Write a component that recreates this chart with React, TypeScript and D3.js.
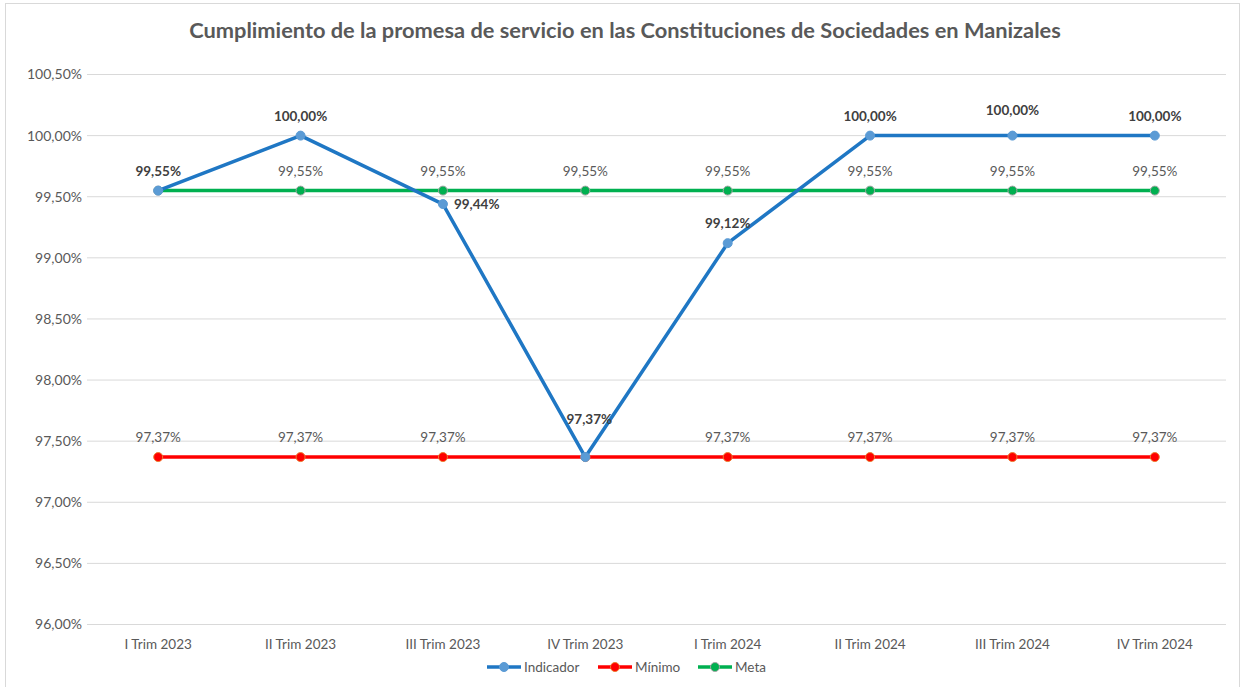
import { useEffect, useRef } from 'react';
import * as d3 from 'd3';

const categories = ['I Trim 2023', 'II Trim 2023', 'III Trim 2023', 'IV Trim 2023', 'I Trim 2024', 'II Trim 2024', 'III Trim 2024', 'IV Trim 2024'];
const indicador = [99.55, 100.0, 99.44, 97.37, 99.12, 100.0, 100.0, 100.0];
const minimo = [97.37, 97.37, 97.37, 97.37, 97.37, 97.37, 97.37, 97.37];
const meta = [99.55, 99.55, 99.55, 99.55, 99.55, 99.55, 99.55, 99.55];
const yTicks = [96.0, 96.5, 97.0, 97.5, 98.0, 98.5, 99.0, 99.5, 100.0, 100.5];

const FONT = 'Lato, "Open Sans", sans-serif';
const fmt = (v: number) => v.toFixed(2).replace('.', ',') + '%';

export default function App() {
  const ref = useRef<SVGSVGElement>(null);

  useEffect(() => {
    if (!ref.current) return;
    const W = 1241, H = 687;
    const svg = d3.select(ref.current);
    svg.selectAll('*').remove();

    svg.append('rect').attr('x', 5.5).attr('y', 3.5).attr('width', W - 7).attr('height', H - 2)
      .attr('fill', '#fff').attr('stroke', '#d9d9d9');

    const x = d3.scaleBand<string>().domain(categories).range([87, 1226]);
    const cx = (i: number) => (x(categories[i]) as number) + x.bandwidth() / 2;
    const y = d3.scaleLinear().domain([96, 100.5]).range([624.5, 74.5]);

    svg.append('text').attr('x', 625).attr('y', 38).attr('text-anchor', 'middle')
      .attr('font-family', FONT).attr('font-weight', 'bold').attr('font-size', 21.8)
      .attr('fill', '#595959')
      .text('Cumplimiento de la promesa de servicio en las Constituciones de Sociedades en Manizales');

    // grid + y labels
    yTicks.forEach(t => {
      svg.append('line').attr('x1', 87).attr('x2', 1226).attr('y1', y(t)).attr('y2', y(t))
        .attr('stroke', '#d9d9d9').attr('stroke-width', 1);
      svg.append('text').attr('x', 82).attr('y', y(t)).attr('dy', '0.35em').attr('text-anchor', 'end')
        .attr('font-family', FONT).attr('font-size', 14).attr('fill', '#595959').text(fmt(t));
    });

    categories.forEach((c, i) => {
      svg.append('text').attr('x', cx(i)).attr('y', 649).attr('text-anchor', 'middle')
        .attr('font-family', FONT).attr('font-size', 13.5).attr('fill', '#595959').text(c);
    });

    const line = d3.line<number>().x((_, i) => cx(i)).y(d => y(d));

    const series = [
      { name: 'Indicador', data: indicador, color: '#1f77c4', marker: '#5b9bd5', edge: '#5b9bd5' },
      { name: 'Mínimo', data: minimo, color: '#ff0000', marker: '#ff0000', edge: '#ed7d31' },
      { name: 'Meta', data: meta, color: '#00b050', marker: '#00b050', edge: '#a5a5a5' },
    ];

    // draw order: minimo, meta, indicador on top
    [series[1], series[2], series[0]].forEach(s => {
      svg.append('path').attr('d', line(s.data) as string).attr('fill', 'none')
        .attr('stroke', s.color).attr('stroke-width', 3.5).attr('stroke-linejoin', 'round');
      s.data.forEach((d, i) => {
        svg.append('circle').attr('cx', cx(i)).attr('cy', y(d)).attr('r', 4.5)
          .attr('fill', s.marker).attr('stroke', s.edge).attr('stroke-width', 1);
      });
    });

    const label = (px: number, py: number, txt: string, bold: boolean, anchor = 'middle') =>
      svg.append('text').attr('x', px).attr('y', py).attr('text-anchor', anchor)
        .attr('font-family', FONT).attr('font-size', 13.5).attr('font-weight', bold ? 'bold' : 'normal')
        .attr('fill', bold ? '#404040' : '#595959').text(txt);

    meta.forEach((d, i) => { if (i !== 0) label(cx(i), y(d) - 15, fmt(d), false); });
    minimo.forEach((d, i) => { if (i !== 3) label(cx(i), y(d) - 15, fmt(d), false); });

    indicador.forEach((d, i) => {
      if (i === 2) label(cx(i) + 11, y(d) + 5, fmt(d), true, 'start');
      else if (i === 3) label(cx(i) + 4, y(d) - 33, fmt(d), true);
      else if (i === 6) label(cx(i), y(d) - 21, fmt(d), true);
      else label(cx(i), y(d) - 15, fmt(d), true);
    });

    // legend
    const legend = [
      { s: series[0], x0: 487 },
      { s: series[1], x0: 598 },
      { s: series[2], x0: 698 },
    ];
    legend.forEach(({ s, x0 }) => {
      svg.append('line').attr('x1', x0).attr('x2', x0 + 34).attr('y1', 667).attr('y2', 667)
        .attr('stroke', s.color).attr('stroke-width', 3.5);
      svg.append('circle').attr('cx', x0 + 17).attr('cy', 667).attr('r', 4.5)
        .attr('fill', s.marker).attr('stroke', s.edge);
      svg.append('text').attr('x', x0 + 37).attr('y', 667).attr('dy', '0.35em')
        .attr('font-family', FONT).attr('font-size', 13.5).attr('fill', '#595959').text(s.name);
    });
  }, []);

  return (
    <svg ref={ref} width={1241} height={687} viewBox="0 0 1241 687"
      style={{ position: 'absolute', left: 0, top: 0, display: 'block' }} />
  );
}
